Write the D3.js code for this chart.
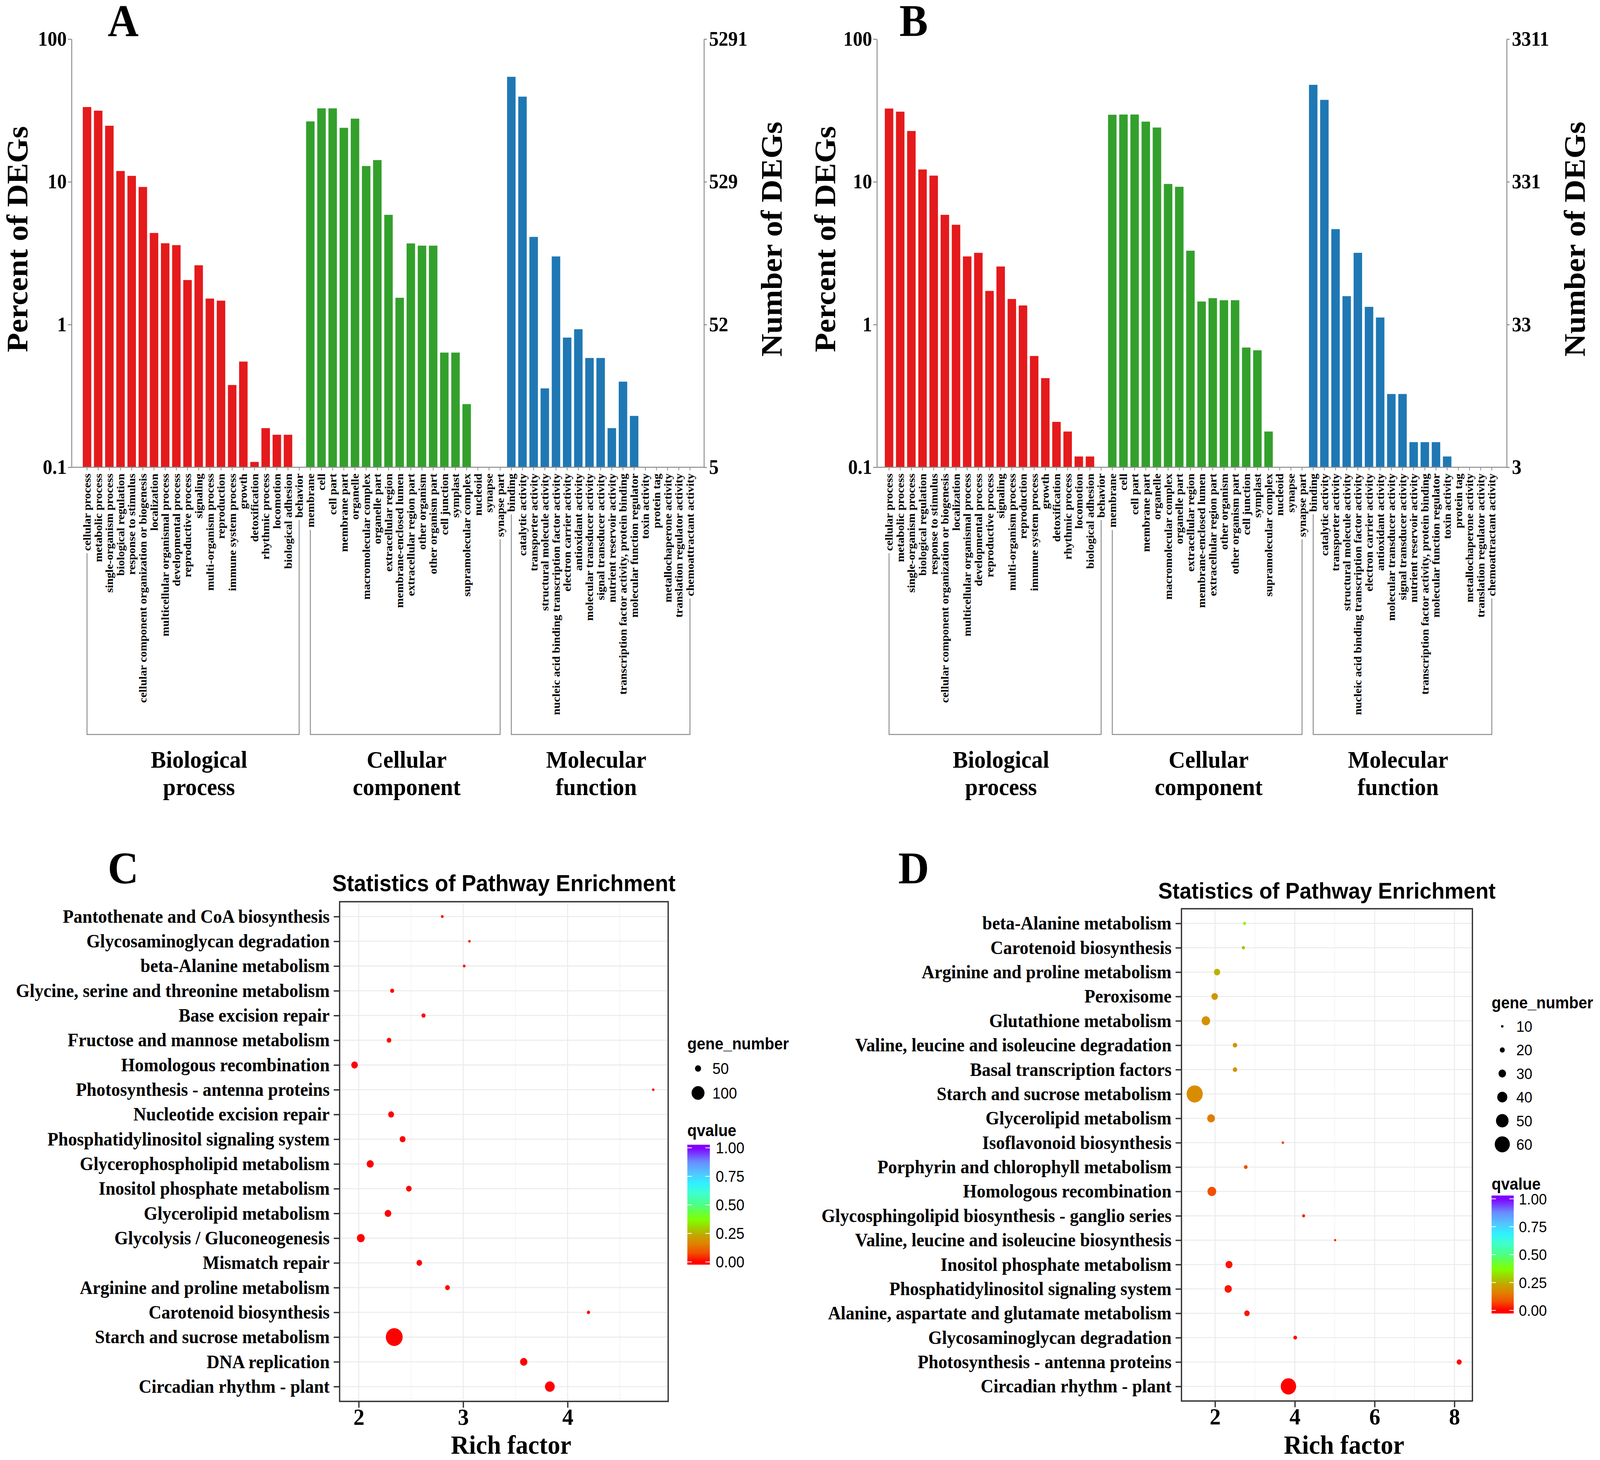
<!DOCTYPE html>
<html lang="en">
<head>
<meta charset="UTF-8" />
<title>GO classification and KEGG enrichment of DEGs</title>
<script src="https://d3js.org/d3.v7.min.js"></script>
<style>
  html, body { margin: 0; padding: 0; background: #fff; overflow: hidden; }
  svg { display: block; background: #fff; width: 100vw; height: 100vh; }
</style>
</head>
<body>
<svg id="chart" viewBox="0 0 4339 3737" preserveAspectRatio="none"></svg>
<script>
// ---- GO terms (panels A, B) ----
const bpTerms = ["cellular process","metabolic process","single-organism process","biological regulation",
  "response to stimulus","cellular component organization or biogenesis","localization",
  "multicellular organismal process","developmental process","reproductive process","signaling",
  "multi-organism process","reproduction","immune system process","growth","detoxification",
  "rhythmic process","locomotion","biological adhesion","behavior"];
const ccTerms = ["membrane","cell","cell part","membrane part","organelle","macromolecular complex",
  "organelle part","extracellular region","membrane-enclosed lumen","extracellular region part",
  "other organism","other organism part","cell junction","symplast","supramolecular complex",
  "nucleoid","synapse","synapse part"];
const mfTerms = ["binding","catalytic activity","transporter activity","structural molecule activity",
  "nucleic acid binding transcription factor activity","electron carrier activity","antioxidant activity",
  "molecular transducer activity","signal transducer activity","nutrient reservoir activity",
  "transcription factor activity, protein binding","molecular function regulator","toxin activity",
  "protein tag","metallochaperone activity","translation regulator activity","chemoattractant activity"];
const groupNames = [["Biological","process"],["Cellular","component"],["Molecular","function"]];

// percent of DEGs (0 = no bar)
const bpA = [33.4, 31.5, 24.7, 11.9, 11.0, 9.2, 4.38, 3.71, 3.6, 2.05, 2.6, 1.52, 1.47, 0.377, 0.55, 0.109, 0.188, 0.169, 0.169, 0];
const ccA = [26.5, 32.7, 32.7, 23.9, 27.7, 12.9, 14.2, 5.87, 1.54, 3.70, 3.57, 3.57, 0.636, 0.636, 0.277, 0, 0, 0];
const mfA = [54.4, 39.5, 4.11, 0.357, 3.0, 0.81, 0.927, 0.583, 0.583, 0.188, 0.398, 0.229, 0, 0, 0, 0, 0];
const bpB = [32.6, 31.0, 22.7, 12.2, 11.05, 5.87, 5.0, 3.0, 3.18, 1.72, 2.55, 1.51, 1.36, 0.602, 0.421, 0.208, 0.178, 0.119, 0.119, 0];
const ccB = [29.5, 29.6, 29.6, 26.4, 24.0, 9.66, 9.23, 3.29, 1.45, 1.53, 1.48, 1.48, 0.69, 0.66, 0.178, 0, 0, 0];
const mfB = [47.8, 37.5, 4.66, 1.58, 3.18, 1.33, 1.12, 0.326, 0.326, 0.150, 0.150, 0.150, 0.119, 0, 0, 0, 0];
const totalA = 5291;
const totalB = 3311;
const percentTicks = [0.1, 1, 10, 100];

// ---- KEGG enrichment (panels C, D), top row first ----
const pathC = ["Pantothenate and CoA biosynthesis","Glycosaminoglycan degradation","beta-Alanine metabolism",
  "Glycine, serine and threonine metabolism","Base excision repair","Fructose and mannose metabolism",
  "Homologous recombination","Photosynthesis - antenna proteins","Nucleotide excision repair",
  "Phosphatidylinositol signaling system","Glycerophospholipid metabolism","Inositol phosphate metabolism",
  "Glycerolipid metabolism","Glycolysis / Gluconeogenesis","Mismatch repair","Arginine and proline metabolism",
  "Carotenoid biosynthesis","Starch and sucrose metabolism","DNA replication","Circadian rhythm - plant"];
const richC = [2.80, 3.06, 3.01, 2.32, 2.62, 2.29, 1.96, 4.82, 2.31, 2.42, 2.11, 2.48, 2.28, 2.02, 2.58, 2.85, 4.20, 2.34, 3.58, 3.83];
const geneC = [25, 23, 25, 35, 35, 39, 54, 23, 48, 48, 57, 46, 54, 63, 46, 40, 29, 129, 59, 77];
const qC    = [0.02, 0.02, 0.02, 0.01, 0.01, 0.01, 0, 0.01, 0, 0, 0, 0, 0, 0, 0, 0, 0.01, 0, 0, 0];
const sizeBreaksC = [50, 100];

const pathD = ["beta-Alanine metabolism","Carotenoid biosynthesis","Arginine and proline metabolism","Peroxisome",
  "Glutathione metabolism","Valine, leucine and isoleucine degradation","Basal transcription factors",
  "Starch and sucrose metabolism","Glycerolipid metabolism","Isoflavonoid biosynthesis",
  "Porphyrin and chlorophyll metabolism","Homologous recombination","Glycosphingolipid biosynthesis - ganglio series",
  "Valine, leucine and isoleucine biosynthesis","Inositol phosphate metabolism","Phosphatidylinositol signaling system",
  "Alanine, aspartate and glutamate metabolism","Glycosaminoglycan degradation","Photosynthesis - antenna proteins",
  "Circadian rhythm - plant"];
const richD = [2.74, 2.71, 2.05, 1.99, 1.77, 2.50, 2.50, 1.49, 1.90, 3.70, 2.77, 1.92, 4.22, 5.01, 2.35, 2.33, 2.80, 4.01, 8.12, 3.84];
const geneD = [12, 13, 25, 26, 34, 18, 18, 64, 31, 10, 15, 35, 12, 9, 28, 29, 22, 15, 20, 61];
const qD    = [0.36, 0.27, 0.25, 0.20, 0.19, 0.20, 0.20, 0.18, 0.15, 0.07, 0.08, 0.08, 0.04, 0.04, 0.02, 0.02, 0.02, 0.01, 0.01, 0];
const sizeBreaksD = [10, 20, 30, 40, 50, 60];
const qTicks = [0, 0.25, 0.5, 0.75, 1];

// ---- styles ----
const SERIF = "'Liberation Serif', 'Times New Roman', serif";
const SANS = "'Liberation Sans', Arial, Helvetica, sans-serif";
const groupColors = ["#e41a1c", "#33a02c", "#1f78b4"];
const qStops  = [0, 0.08, 0.16, 0.23, 0.30, 0.37, 0.50, 0.61, 0.69, 0.78, 0.88, 1];
const qColors = ["#ff0000","#f25000","#e08200","#c4a400","#a0d200","#80ff00","#4cff84","#3cffd4","#30f0ff","#52c4ff","#6a8aff","#8000ff"];
const qColor = d3.scaleLinear().domain(qStops).range(qColors).clamp(true);

const svg = d3.select("#chart");

function panelLabel(txt, x, y) {
  svg.append("text").attr("x", x).attr("y", y)
    .attr("font-family", SERIF).attr("font-weight", "bold").attr("font-size", 116)
    .text(txt);
}

// GO bar chart with log scale and secondary count axis
function drawGO(cfg) {
  const g = svg.append("g");
  const terms = bpTerms.concat(ccTerms, mfTerms);
  const vals = cfg.bp.concat(cfg.cc, cfg.mf);
  const n = terms.length;
  const nb = bpTerms.length, nc = ccTerms.length;
  const grp = terms.map((t, i) => i < nb ? 0 : (i < nb + nc ? 1 : 2));
  const base = 1196, top = 100;

  const x = d3.scaleBand().domain(d3.range(n))
    .range([cfg.first - cfg.step / 2, cfg.first + (n - 0.5) * cfg.step])
    .paddingInner(0.24).paddingOuter(0.12);
  const cx = i => x(i) + x.bandwidth() / 2;
  const y = d3.scaleLog().domain([0.1, 100]).range([base, top]);
  const yR = d3.scaleLog().domain([cfg.total / 1000, cfg.total]).range([base, top]);

  g.selectAll("rect.bar")
    .data(vals.map((v, i) => ({ v, i })).filter(d => d.v > 0))
    .join("rect")
    .attr("class", "bar")
    .attr("x", d => x(d.i))
    .attr("width", x.bandwidth())
    .attr("y", d => y(d.v))
    .attr("height", d => base - y(d.v))
    .attr("fill", d => groupColors[grp[d.i]]);

  const axL = g.append("g").attr("transform", `translate(${cfg.left},0)`)
    .call(d3.axisLeft(y).tickValues(percentTicks).tickFormat(d3.format("~g"))
      .tickSize(10).tickSizeOuter(0).tickPadding(3));
  const axR = g.append("g").attr("transform", `translate(${cfg.right},0)`)
    .call(d3.axisRight(yR).tickValues(percentTicks.map(p => cfg.total * p / 100))
      .tickFormat(d => Math.floor(d + 1e-6)).tickSize(8).tickSizeOuter(0).tickPadding(6));
  [axL, axR].forEach(a => {
    a.attr("font-family", SERIF).attr("font-weight", "bold").attr("font-size", 52);
    a.selectAll("path, line").attr("stroke", "#8a8a8a").attr("stroke-width", 2.5);
    a.selectAll("text").attr("fill", "#000");
  });

  // bottom axis line with a tick per term
  g.append("line").attr("x1", cfg.left).attr("x2", cfg.right).attr("y1", base).attr("y2", base)
    .attr("stroke", "#8a8a8a").attr("stroke-width", 2.5);
  g.selectAll("line.xt").data(d3.range(n)).join("line")
    .attr("class", "xt").attr("x1", cx).attr("x2", cx).attr("y1", base).attr("y2", base + 8)
    .attr("stroke", "#8a8a8a").attr("stroke-width", 2);

  const y0 = base + 16;
  const labels = g.selectAll("text.term").data(terms).join("text")
    .attr("class", "term")
    .attr("transform", (d, i) => `translate(${cx(i)},${y0}) rotate(-90)`)
    .attr("dy", "0.33em")
    .attr("text-anchor", "end")
    .attr("font-family", SERIF).attr("font-weight", "bold").attr("font-size", 30)
    .text(d => d);
  const lens = labels.nodes().map(el => el.getComputedTextLength());

  // group brackets
  const ranges = [[0, nb - 1], [nb, nb + nc - 1], [nb + nc, n - 1]];
  const offs = [16, 4, -12];
  ranges.forEach(([s, e], k) => {
    const bottom = 1880;
    g.append("path")
      .attr("d", `M${cx(s)},${y0 + lens[s] + 6}V${bottom}H${cx(e)}V${y0 + lens[e] + 6}`)
      .attr("fill", "none").attr("stroke", "#8c8c8c").attr("stroke-width", 2.5);
    const t = g.append("text").attr("text-anchor", "middle")
      .attr("font-family", SERIF).attr("font-weight", "bold").attr("font-size", 62);
    groupNames[k].forEach((w, j) => {
      t.append("tspan").attr("x", (cx(s) + cx(e)) / 2 + offs[k]).attr("y", 1965 + j * 70).text(w);
    });
  });

  // axis titles
  g.append("text").attr("transform", `translate(${cfg.leftTitleX},612) rotate(-90)`)
    .attr("text-anchor", "middle").attr("font-family", SERIF).attr("font-weight", "bold")
    .attr("font-size", 81).text("Percent of DEGs");
  g.append("text").attr("transform", `translate(${cfg.rightTitleX},612) rotate(-90)`)
    .attr("text-anchor", "middle").attr("font-family", SERIF).attr("font-weight", "bold")
    .attr("font-size", 81).text("Number of DEGs");
}

// KEGG bubble chart
function drawKEGG(cfg) {
  const g = svg.append("g");
  const ext = d3.extent(cfg.rich);
  const pad = (ext[1] - ext[0]) * 0.05;
  const x = d3.scaleLinear().domain([ext[0] - pad, ext[1] + pad]).range([cfg.left, cfg.right]);
  const y = d3.scalePoint().domain(cfg.paths).range([cfg.top, cfg.bottom]).padding(0.6);
  const r = d3.scaleLinear().domain(cfg.rDomain).range(cfg.rRange);

  const majors = x.ticks(4);
  const st = majors[1] - majors[0];
  const minors = [majors[0] - st / 2].concat(majors.map(m => m + st / 2))
    .filter(v => v > x.domain()[0] && v < x.domain()[1]);

  g.selectAll("line.minor").data(minors).join("line")
    .attr("x1", x).attr("x2", x).attr("y1", cfg.top).attr("y2", cfg.bottom)
    .attr("stroke", "#f0f0f0").attr("stroke-width", 1.5);
  g.selectAll("line.vmaj").data(majors).join("line")
    .attr("x1", x).attr("x2", x).attr("y1", cfg.top).attr("y2", cfg.bottom)
    .attr("stroke", "#ebebeb").attr("stroke-width", 2.6);
  g.selectAll("line.hmaj").data(cfg.paths).join("line")
    .attr("x1", cfg.left).attr("x2", cfg.right).attr("y1", y).attr("y2", y)
    .attr("stroke", "#ebebeb").attr("stroke-width", 2.6);

  const rows = cfg.paths.map((p, i) => ({ p, rf: cfg.rich[i], n: cfg.genes[i], q: cfg.q[i] }));
  g.selectAll("circle.pt").data(rows).join("circle")
    .attr("cx", d => x(d.rf)).attr("cy", d => y(d.p)).attr("r", d => r(d.n))
    .attr("fill", d => qColor(d.q));

  g.append("rect").attr("x", cfg.left).attr("y", cfg.top)
    .attr("width", cfg.right - cfg.left).attr("height", cfg.bottom - cfg.top)
    .attr("fill", "none").attr("stroke", "#333").attr("stroke-width", 3.5);

  const ay = g.append("g").attr("transform", `translate(${cfg.left},0)`)
    .call(d3.axisLeft(y).tickSize(16).tickPadding(11).tickSizeOuter(0));
  const ax = g.append("g").attr("transform", `translate(0,${cfg.bottom})`)
    .call(d3.axisBottom(x).tickValues(majors).tickFormat(d3.format("~g")).tickSize(16).tickPadding(1.5).tickSizeOuter(0));
  [ay, ax].forEach(a => {
    a.select(".domain").remove();
    a.attr("font-family", SERIF).attr("font-weight", "bold");
    a.selectAll("line").attr("stroke", "#333").attr("stroke-width", 3.5);
    a.selectAll("text").attr("fill", "#000");
  });
  ay.attr("font-size", 48);
  ax.attr("font-size", 60);
  ax.selectAll("text").attr("dy", "0.71em");

  g.append("text").attr("x", (cfg.left + cfg.right) / 2).attr("y", cfg.titleY)
    .attr("text-anchor", "middle").attr("font-family", SANS).attr("font-weight", "bold")
    .attr("font-size", cfg.titleSize).text("Statistics of Pathway Enrichment");
  g.append("text").attr("x", cfg.xTitleX).attr("y", cfg.xTitleY)
    .attr("text-anchor", "middle").attr("font-family", SERIF).attr("font-weight", "bold")
    .attr("font-size", 68).text("Rich factor");

  // legends
  const L = cfg.legend;
  g.append("text").attr("x", L.x).attr("y", L.titleY).attr("font-family", SANS)
    .attr("font-weight", "bold").attr("font-size", 42).text("gene_number");
  const keys = g.selectAll("g.key").data(cfg.sizeBreaks).join("g")
    .attr("transform", (d, i) => `translate(0,${L.keyY0 + i * L.keyStep})`);
  keys.append("circle").attr("cx", L.keyX).attr("r", d => r(d)).attr("fill", "#000");
  keys.append("text").attr("x", L.labelX).attr("dy", "0.36em").attr("font-family", SANS)
    .attr("font-size", L.fs).text(d => d);

  g.append("text").attr("x", L.x).attr("y", L.qTitleY).attr("font-family", SANS)
    .attr("font-weight", "bold").attr("font-size", 42).text("qvalue");
  const yq = d3.scaleLinear().domain([0, 1]).range([L.q0, L.q1]);
  const gid = "grad" + cfg.id;
  const grad = svg.append("defs").append("linearGradient").attr("id", gid)
    .attr("gradientUnits", "userSpaceOnUse").attr("x1", 0).attr("x2", 0)
    .attr("y1", yq(0)).attr("y2", yq(1));
  grad.selectAll("stop").data(qStops).join("stop")
    .attr("offset", d => d).attr("stop-color", d => qColor(d));
  g.append("rect").attr("x", L.x).attr("y", L.barTop).attr("width", L.barW)
    .attr("height", L.barBottom - L.barTop).attr("fill", `url(#${gid})`);
  qTicks.forEach(v => {
    g.append("line").attr("x1", L.x).attr("x2", L.x + L.barW / 5).attr("y1", yq(v)).attr("y2", yq(v))
      .attr("stroke", "#fff").attr("stroke-width", 2);
    g.append("line").attr("x1", L.x + L.barW * 4 / 5).attr("x2", L.x + L.barW).attr("y1", yq(v)).attr("y2", yq(v))
      .attr("stroke", "#fff").attr("stroke-width", 2);
  });
  g.selectAll("text.ql").data(qTicks).join("text")
    .attr("x", L.qLabelX).attr("y", yq).attr("dy", "0.36em")
    .attr("font-family", SANS).attr("font-size", L.fs).text(d3.format(".2f"));
}

drawGO({ bp: bpA, cc: ccA, mf: mfA, total: totalA, left: 194, right: 1909, first: 236, step: 30.28,
  leftTitleX: 74, rightTitleX: 2120 });
drawGO({ bp: bpB, cc: ccB, mf: mfB, total: totalB, left: 2378, right: 4086, first: 2411, step: 30.27,
  leftTitleX: 2265, rightTitleX: 4298 });

drawKEGG({ id: "C", paths: pathC, rich: richC, genes: geneC, q: qC,
  left: 921, right: 1812, top: 2308, bottom: 3587,
  rDomain: [50, 100], rRange: [8.3, 17.5], sizeBreaks: sizeBreaksC,
  titleY: 2281, titleSize: 59, xTitleX: 1386, xTitleY: 3721,
  legend: { x: 1864, titleY: 2686, keyX: 1893, keyY0: 2735, keyStep: 62.5, labelX: 1932, fs: 40,
    qTitleY: 2908, barTop: 2930, barBottom: 3237, q1: 2938, q0: 3230, barW: 61, qLabelX: 1941 } });
drawKEGG({ id: "D", paths: pathD, rich: richD, genes: geneD, q: qD,
  left: 3204, right: 3993, top: 2326, bottom: 3586,
  rDomain: [10, 60], rRange: [3.3, 20.5], sizeBreaks: sizeBreaksD,
  titleY: 2300, titleSize: 58, xTitleX: 3645, xTitleY: 3721,
  legend: { x: 4045, titleY: 2581, keyX: 4074, keyY0: 2627, keyStep: 60.4, labelX: 4112, fs: 39,
    qTitleY: 3045, barTop: 3060, barBottom: 3362, q1: 3068.5, q0: 3354, barW: 60, qLabelX: 4119 } });

panelLabel("A", 292, 92);
panelLabel("B", 2439, 92);
panelLabel("C", 292, 2261);
panelLabel("D", 2436, 2261);
</script>
</body>
</html>
